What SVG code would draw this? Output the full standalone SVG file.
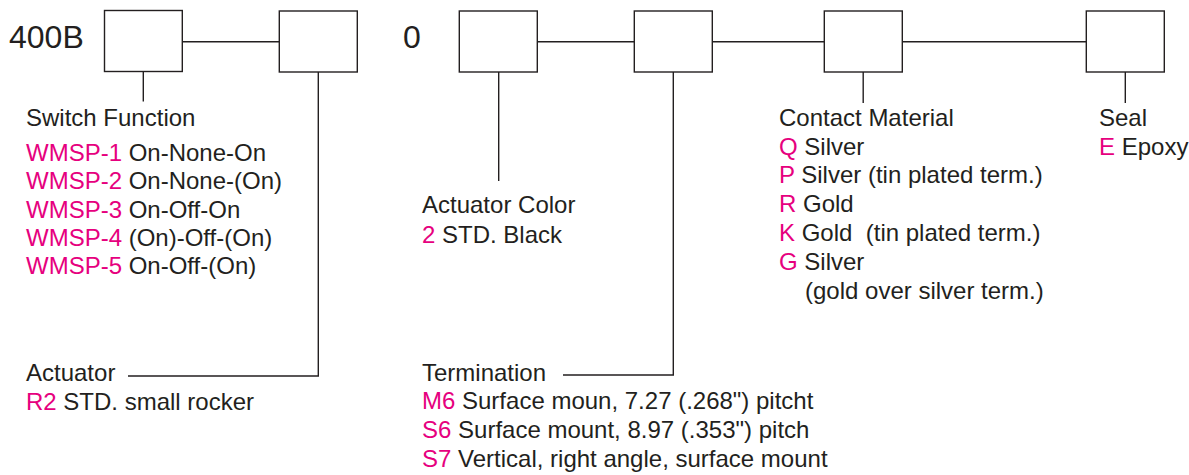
<svg xmlns="http://www.w3.org/2000/svg" width="1189" height="475" viewBox="0 0 1189 475">
<style>
.box{fill:#fff;stroke:#231f20;stroke-width:1.4}
.ln{fill:none;stroke:#231f20;stroke-width:1.4}
text{font-family:"Liberation Sans",Arial,sans-serif;font-size:24px;fill:#231f20;white-space:pre}
.big{font-size:32px}
.k{fill:#e6007e}
</style>
<rect width="1189" height="475" fill="#fff"/>
<g id="connectors">
<path class="ln" d="M182.3 41.7H279.3M537.3 41.7H634.3M712.3 41.7H824.3M902.3 41.7H1086.3"/>
<path class="ln" d="M143.3 71.5V101.5"/>
<path class="ln" d="M318.3 72V376H128"/>
<path class="ln" d="M498.7 72V181"/>
<path class="ln" d="M673.3 72V375H563"/>
<path class="ln" d="M863.2 72V103"/>
<path class="ln" d="M1125.3 72V103"/>
</g>
<g id="prefix"><text class="big" x="9" y="48">400B</text><text class="big" x="403" y="48">0</text></g>
<g id="box-switch-function"><rect class="box" x="104.5" y="10.5" width="77.8" height="61"/></g>
<g id="box-actuator"><rect class="box" x="279.3" y="11" width="78" height="61"/></g>
<g id="box-actuator-color"><rect class="box" x="459.3" y="11" width="78" height="61"/></g>
<g id="box-termination"><rect class="box" x="634.3" y="11" width="78" height="61"/></g>
<g id="box-contact-material"><rect class="box" x="824.3" y="11" width="78" height="61"/></g>
<g id="box-seal"><rect class="box" x="1086.3" y="11" width="78" height="61"/></g>
<g id="label-switch-function">
<text x="26" y="126">Switch Function</text>
<text x="26" y="160.5"><tspan class="k">WMSP-1</tspan> On-None-On</text>
<text x="26" y="189"><tspan class="k">WMSP-2</tspan> On-None-(On)</text>
<text x="26" y="217.5"><tspan class="k">WMSP-3</tspan> On-Off-On</text>
<text x="26" y="245.5"><tspan class="k">WMSP-4</tspan> (On)-Off-(On)</text>
<text x="26" y="274"><tspan class="k">WMSP-5</tspan> On-Off-(On)</text>
</g>
<g id="label-actuator">
<text x="26" y="381">Actuator</text>
<text x="26" y="410"><tspan class="k">R2</tspan> STD. small rocker</text>
</g>
<g id="label-actuator-color">
<text x="422" y="213.3">Actuator Color</text>
<text x="422" y="242.7"><tspan class="k">2</tspan> STD. Black</text>
</g>
<g id="label-termination">
<text x="422" y="380.7">Termination</text>
<text x="422" y="409.3"><tspan class="k">M6</tspan> Surface moun, 7.27 (.268") pitcht</text>
<text x="422" y="438.3"><tspan class="k">S6</tspan> Surface mount, 8.97 (.353") pitch</text>
<text x="422" y="466.7"><tspan class="k">S7</tspan> Vertical, right angle, surface mount</text>
</g>
<g id="label-contact-material">
<text x="779" y="126">Contact Material</text>
<text x="779" y="154.5"><tspan class="k">Q</tspan> Silver</text>
<text x="779" y="183.3"><tspan class="k">P</tspan> Silver (tin plated term.)</text>
<text x="779" y="212.3"><tspan class="k">R</tspan> Gold</text>
<text x="779" y="241"><tspan class="k">K</tspan> Gold  (tin plated term.)</text>
<text x="779" y="270"><tspan class="k">G</tspan> Silver</text>
<text x="805" y="298.5">(gold over silver term.)</text>
</g>
<g id="label-seal">
<text x="1099" y="126">Seal</text>
<text x="1099" y="154.5"><tspan class="k">E</tspan> Epoxy</text>
</g>
</svg>
